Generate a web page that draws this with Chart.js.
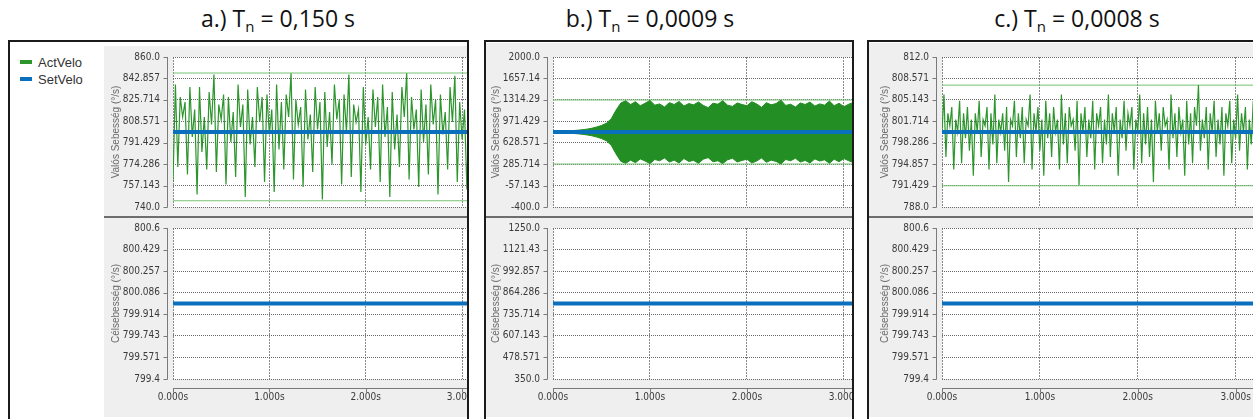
<!DOCTYPE html>
<html><head><meta charset="utf-8">
<script src="https://cdn.jsdelivr.net/npm/chart.js@4.4.1/dist/chart.umd.min.js"></script>
<style>
html,body{margin:0;padding:0;background:#fff;}
body{width:1253px;height:419px;overflow:hidden;position:relative;font-family:"Liberation Sans",Arial,sans-serif;}
.panel{position:absolute;border:2px solid #1b1b1b;overflow:hidden;background:#fff;box-sizing:border-box;}
.gray{position:absolute;background:#efefef;}
.sep{position:absolute;background:#6e6e6e;height:2px;}
canvas{position:absolute;}
.title{position:absolute;top:6px;width:300px;text-align:center;font-family:"Open Sans",Lato,sans-serif;font-size:23px;line-height:24px;color:#111;white-space:nowrap;}
.title sub{font-size:15px;vertical-align:-5px;line-height:0;}
.leg{position:absolute;font-size:13px;line-height:15px;color:#333;white-space:nowrap;}
.sw{position:absolute;width:12px;height:4px;}
</style></head><body>
<script>
// ---------------- data ----------------
const seriesNames = ['ActVelo', 'SetVelo'];
const setVelo = 800;
const X_MAX = 3.3;
const xTickValues = [0, 1, 2, 3];
const xTickLabels = ['0.000s', '1.000s', '2.000s', '3.000s'];

// panel a (sample step 0.025 s)
const aStep = 0.025;
const aAct = [
 760, 838, 772, 828, 812, 824, 766, 836, 796, 818, 750, 836, 784, 812, 770, 832, 806, 846, 768, 822, 810, 830, 758, 828, 792, 816, 764, 838, 804, 822, 748,
 834, 790, 812, 772, 836, 808, 828, 760, 830, 798, 818, 752, 838, 786, 824, 770, 830, 812, 847, 762, 826, 806, 820, 756, 834, 794, 814, 768, 836, 802, 824,
 746, 832, 788, 816, 774, 838, 810, 826, 758, 830, 800, 846, 764, 822, 808, 818, 752, 836, 790, 812, 770, 834, 804, 828, 760, 838, 796, 820, 748, 832, 786,
 814, 772, 836, 812, 847, 762, 828, 802, 818, 756, 834, 792, 822, 766, 838, 806, 826, 750, 830, 798, 816, 770, 836, 808, 845, 760, 824, 794, 818, 754, 836, 790
];
const aMarkers = [847.2, 745.0];
const aTopTicks = ['860.0', '842.857', '825.714', '808.571', '791.429', '774.286', '757.143', '740.0'];
const aBotTicks = ['800.6', '800.429', '800.257', '800.086', '799.914', '799.743', '799.571', '799.4'];

// panel b (envelope of the dense oscillation, sample step 0.05 s)
const bStep = 0.05;
const bUpper = [
 812, 814, 815, 818, 822, 828, 836, 846, 860, 880, 905, 940, 1010, 1150, 1265, 1300,
 1240, 1285, 1220, 1260, 1305, 1230, 1250, 1200, 1270, 1240, 1290, 1215, 1255, 1235, 1280, 1225,
 1190, 1260, 1245, 1300, 1230, 1210, 1265, 1240, 1220, 1285, 1250, 1195, 1270, 1235, 1255, 1310,
 1225, 1245, 1200, 1265, 1240, 1280, 1215, 1250, 1230, 1295, 1220, 1260, 1205, 1245, 1275, 1235
];
const bLower = [
 788, 786, 785, 782, 778, 772, 764, 754, 740, 720, 695, 660, 590, 450, 330, 300,
 350, 310, 370, 335, 295, 360, 340, 385, 320, 350, 305, 375, 330, 345, 300, 365,
 390, 325, 340, 295, 355, 380, 320, 345, 365, 305, 335, 385, 315, 350, 330, 290,
 360, 340, 380, 320, 345, 305, 370, 335, 355, 300, 365, 325, 375, 340, 310, 350
];
const bMarkers = [1312, 288];
const bTopTicks = ['2000.0', '1657.14', '1314.29', '971.429', '628.571', '285.714', '-57.143', '-400.0'];
const bBotTicks = ['1250.0', '1121.43', '992.857', '864.286', '735.714', '607.143', '478.571', '350.0'];

// panel c (sample step 0.02 s)
const cStep = 0.02;
const cAct = [
 800, 806, 796, 803, 801, 804, 794, 802, 800, 805, 795, 803, 799, 804, 797, 802, 793, 803, 800, 805, 796, 802, 801, 804, 794, 803, 798, 806, 795, 802, 800, 803, 797, 804, 792, 802, 801, 805, 796, 803,
 799, 804, 795, 802, 801, 806, 794, 803, 800, 804, 797, 802, 793, 805, 799, 803, 796, 804, 800, 802, 794, 806, 798, 803, 795, 804, 801, 802, 797, 805, 791.5, 803, 800, 804, 796, 802, 799, 805, 794, 803,
 801, 804, 795, 802, 798, 806, 796, 803, 800, 804, 793, 802, 799, 805, 797, 803, 801, 804, 794, 802, 800, 806, 795, 803, 798, 804, 796, 802, 792, 805, 800, 803, 797, 804, 801, 802, 794, 806, 799, 803,
 796, 804, 800, 802, 793, 805, 798, 803, 795, 804, 801, 807.5, 797, 802, 799, 804, 794, 803, 800, 805, 796, 802, 798, 804, 793, 803, 801, 805, 795, 802, 799, 806, 797, 803, 800, 804, 794, 802, 798, 805, 796
];
const cMarkers = [807.5, 791.4];
const cTopTicks = ['812.0', '808.571', '805.143', '801.714', '798.286', '794.857', '791.429', '788.0'];
const cBotTicks = ['800.6', '800.429', '800.257', '800.086', '799.914', '799.743', '799.571', '799.4'];

const yTitleTop = 'Valós Sebesség (°/s)';
const yTitleBottom = 'Célsebesség (°/s)';
const panelTitles = [['a.) T', 'n', ' = 0,150 s'], ['b.) T', 'n', ' = 0,0009 s'], ['c.) T', 'n', ' = 0,0008 s']];

// ---------------- style ----------------
const GREEN = '#2c952c', BAND = '#238e23', MARKER = '#74c274', BLUE = '#0a6fbd';
const TICK_FONT = {family: '"DejaVu Sans Condensed","DejaVu Sans",sans-serif', size: 10};
const TITLE_FONT = {family: '"Liberation Sans",Arial,sans-serif', size: 10};
const Y_AXIS_W = 63;

const framePlugin = {
  id: 'frame',
  beforeDraw(chart) {
    const {ctx, chartArea: a} = chart;
    ctx.save(); ctx.fillStyle = '#fff';
    ctx.fillRect(a.left, a.top, a.right - a.left, a.bottom - a.top); ctx.restore();
  },
  afterDraw(chart, args, opts) {
    const {ctx, chartArea: a, scales} = chart;
    ctx.save(); ctx.strokeStyle = '#7a7a7a'; ctx.lineWidth = 1;
    ctx.beginPath();
    const ax = Math.round(a.left - 6) + 0.5;
    ctx.moveTo(ax, a.top); ctx.lineTo(ax, Math.round(a.bottom) + 0.5);
    scales.y.ticks.forEach(t => {
      const py = Math.round(scales.y.getPixelForValue(t.value)) + 0.5;
      ctx.moveTo(ax - 4, py); ctx.lineTo(ax, py);
    });
    if (opts.xAxis) {
      const ay = Math.round(a.bottom + 9) + 0.5;
      ctx.moveTo(a.left, ay); ctx.lineTo(a.right, ay);
      scales.x.ticks.forEach(t => {
        const px = Math.round(scales.x.getPixelForValue(t.value)) + 0.5;
        ctx.moveTo(px, ay); ctx.lineTo(px, ay + 4);
      });
    }
    ctx.stroke(); ctx.restore();
  }
};

const series = (arr, step) => arr.map((v, i) => ({x: i * step, y: v}));
const hline = v => [{x: 0, y: v}, {x: X_MAX, y: v}];

function makeChart(canvas, cfg) {
  const tickMap = new Map(cfg.yTicks.map(s => [parseFloat(s), s]));
  const yVals = cfg.yTicks.map(parseFloat).sort((p, q) => p - q);
  return new Chart(canvas, {
    type: 'line',
    data: {datasets: cfg.datasets},
    plugins: [framePlugin],
    options: {
      responsive: false, animation: false, devicePixelRatio: 1,
      layout: {padding: {left: 0, right: 0, top: cfg.padTop, bottom: cfg.padBottom}},
      plugins: {legend: {display: false}, tooltip: {enabled: false}, frame: {xAxis: cfg.showX}},
      elements: {point: {radius: 0}, line: {tension: 0}},
      scales: {
        x: {
          type: 'linear', min: 0, max: X_MAX,
          afterBuildTicks: s => { s.ticks = xTickValues.map(v => ({value: v})); },
          ticks: {display: cfg.showX, autoSkip: false, maxRotation: 0, padding: 12, font: TICK_FONT, color: '#3a3a3a',
                  callback: v => xTickLabels[xTickValues.indexOf(v)]},
          grid: {color: '#8a8a8a', lineWidth: 1, drawTicks: false},
          border: {display: false, dash: [2, 1]},
          afterFit: s => { s.height = cfg.xHeight; s.paddingLeft = 0; s.paddingRight = 0; }
        },
        y: {
          type: 'linear', min: yVals[0], max: yVals[yVals.length - 1],
          afterBuildTicks: s => { s.ticks = yVals.map(v => ({value: v})); },
          ticks: {autoSkip: false, padding: 13, font: TICK_FONT, color: '#3a3a3a', callback: v => tickMap.get(v)},
          title: {display: true, text: cfg.yTitle, font: TITLE_FONT, color: '#6a6a6a', padding: 0},
          grid: {color: '#6a6a6a', lineWidth: 1, drawTicks: false},
          border: {display: false, dash: [1, 1]},
          afterFit: s => { s.width = Y_AXIS_W; s.paddingTop = 0; s.paddingBottom = 0; }
        }
      }
    }
  });
}

// ---------------- layout ----------------
const panels = [
  {x: 8, y: 40, w: 461, h: 400, grayX: 104, grayY: 46, plotLeft: 173, pxs: 96.4, legend: true,
   top: {ticks: aTopTicks, act: series(aAct, aStep), markers: aMarkers}, bot: aBotTicks, title: panelTitles[0], tc: 278},
  {x: 484, y: 40, w: 370, h: 400, grayX: 486, grayY: 43, plotLeft: 553, pxs: 97,
   top: {ticks: bTopTicks, band: [series(bUpper, bStep), series(bLower, bStep)], markers: bMarkers}, bot: bBotTicks, title: panelTitles[1], tc: 650},
  {x: 867, y: 40, w: 400, h: 400, grayX: 869, grayY: 43, plotLeft: 942, pxs: 98,
   top: {ticks: cTopTicks, act: series(cAct, cStep), markers: cMarkers}, bot: cBotTicks, title: panelTitles[2], tc: 1077}
];

function el(tag, cls, parent) { const e = document.createElement(tag); if (cls) e.className = cls; parent.appendChild(e); return e; }

panels.forEach(P => {
  const t = el('div', 'title', document.body);
  t.style.left = (P.tc - 150) + 'px';
  t.append(P.title[0]); const sb = el('sub', null, t); sb.textContent = P.title[1]; t.append(P.title[2]);

  const pe = el('div', 'panel', document.body);
  Object.assign(pe.style, {left: P.x + 'px', top: P.y + 'px', width: P.w + 'px', height: P.h + 'px'});
  const rx = v => (v - P.x - 2) + 'px', ry = v => (v - P.y - 2) + 'px';
  const g = el('div', 'gray', pe);
  Object.assign(g.style, {left: rx(P.grayX), top: ry(P.grayY), width: '500px', height: (417 - P.grayY) + 'px'});
  const sp = el('div', 'sep', pe);
  Object.assign(sp.style, {left: rx(P.grayX), top: ry(216), width: '500px'});

  if (P.legend) {
    [[seriesNames[0], GREEN, 55], [seriesNames[1], BLUE, 72]].forEach(([name, col, ty]) => {
      const s = el('div', 'sw', pe); Object.assign(s.style, {left: rx(20), top: ry(ty + 5), background: col});
      const l = el('div', 'leg', pe); Object.assign(l.style, {left: rx(38), top: ry(ty)}); l.textContent = name;
    });
  }

  const plotW = Math.round(X_MAX * P.pxs);
  const mk = (pageY, h) => {
    const c = el('canvas', null, pe);
    c.width = Y_AXIS_W + plotW; c.height = h;
    Object.assign(c.style, {left: rx(P.plotLeft - Y_AXIS_W), top: ry(pageY), width: c.width + 'px', height: h + 'px'});
    return c;
  };

  // top subplot
  const topSets = [
    {label: seriesNames[1], data: hline(setVelo), borderColor: BLUE, borderWidth: 4, order: 0}
  ];
  if (P.top.act) {
    topSets.push({label: seriesNames[0], data: P.top.act, borderColor: GREEN, borderWidth: 1.2, order: 1});
  } else {
    topSets.push({label: seriesNames[0], data: P.top.band[0], borderColor: BAND, backgroundColor: BAND, borderWidth: 1, fill: '+1', order: 1});
    topSets.push({label: seriesNames[0] + ' min', data: P.top.band[1], borderColor: BAND, borderWidth: 1, fill: false, order: 1});
  }
  P.top.markers.forEach(m => topSets.push({label: 'marker', data: hline(m), borderColor: MARKER, borderWidth: 1, order: 2}));
  makeChart(mk(47, 170), {datasets: topSets, yTicks: P.top.ticks, yTitle: yTitleTop, showX: false, xHeight: 0, padTop: 10, padBottom: 10});

  // bottom subplot
  makeChart(mk(219, 198), {
    datasets: [{label: seriesNames[1], data: hline(setVelo), borderColor: BLUE, borderWidth: 4, order: 0}],
    yTicks: P.bot, yTitle: yTitleBottom, showX: true, xHeight: 38, padTop: 9, padBottom: 0
  });
});
</script>
</body></html>
